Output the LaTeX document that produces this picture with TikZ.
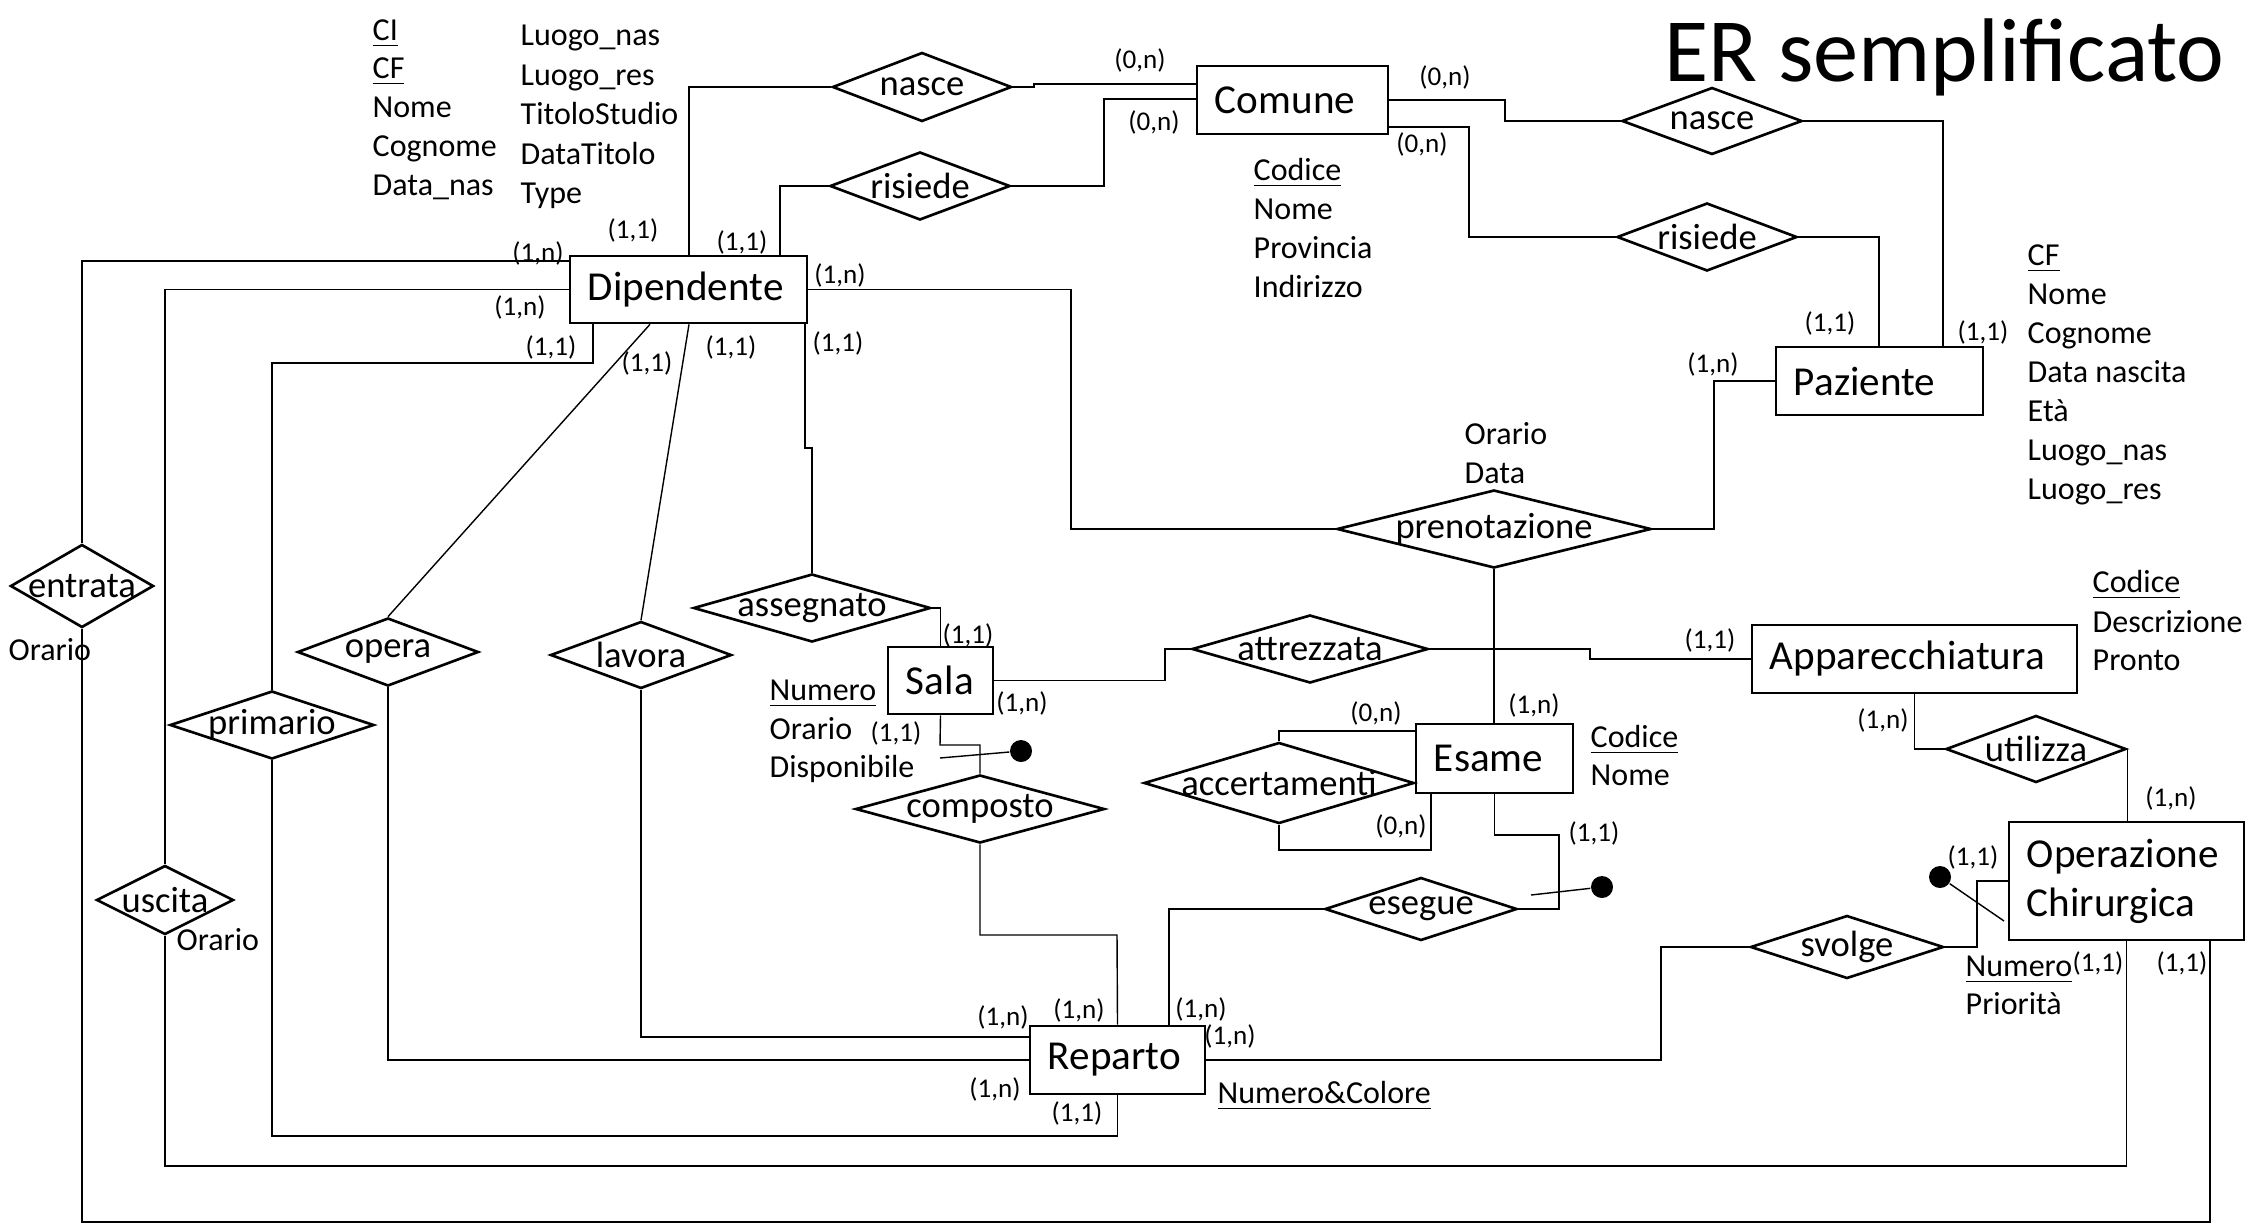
\documentclass[tikz,border=0pt]{standalone}
\usepackage{fontspec}
\setmainfont{Carlito}
\usetikzlibrary{shapes.geometric}
\hyphenpenalty=10000

\newcommand{\entfont}{\fontsize{11.7}{14}\selectfont}
\newcommand{\relfont}{\fontsize{10.4}{12}\selectfont}
\newcommand{\attrfont}{\fontsize{9.1}{11}\selectfont}
\newcommand{\cardfont}{\fontsize{7.7}{9}\selectfont}
\newcommand{\titlefont}{\fontsize{25.7}{30}\selectfont}

\begin{document}
\begin{tikzpicture}[x=0.01cm, y=-0.01cm,
		ent/.style={draw, line width=0.75pt, inner xsep=0.18cm, inner ysep=0pt, align=left, font=\entfont},
		rel/.style={diamond, draw, line width=0.75pt, inner sep=0pt, label={[font=\relfont, inner sep=0pt]center:#1}},
		attr/.style={anchor=west, inner sep=0pt, font=\attrfont, text height=5.9pt, text depth=0pt},
		card/.style={inner sep=0pt, font=\cardfont, text height=5pt, text depth=0pt},
		link/.style={line width=0.4pt},
		iddot/.style={circle, fill, inner sep=0pt, minimum size=0.22cm}]
	% 画布 (固定版面大小)
	\fill[white] (0,0) rectangle (2246,1224);
	\useasboundingbox (0,0) rectangle (2246,1224);
	
	% 标题
	\node[anchor=west, inner sep=0pt, font=\titlefont, text height=16.6pt, text depth=0pt] (title) at (1664,52) {ER semplificato};
	
	% 实体
	\node[ent, text width=2.01cm, minimum height=0.67cm] (Dip) at (688.5,289.5) {Dipendente};
	\node[ent, text width=1.55cm, minimum height=0.68cm] (Comune) at (1292.5,100) {Comune};
	\node[ent, text width=1.71cm, minimum height=0.68cm] (Paz) at (1879.5,381) {Paziente};
	\node[ent, text width=0.69cm, minimum height=0.67cm] (Sala) at (940.5,680.5) {Sala};
	\node[ent, text width=2.89cm, minimum height=0.68cm] (Appar) at (1914.5,659) {Apparecchiatura};
	\node[ent, text width=1.21cm, minimum height=0.69cm] (Esame) at (1494.5,758.5) {Esame};
	\node[ent, text width=1.99cm, minimum height=1.18cm] (Oper) at (2126.5,881) {Operazione\\Chirurgica};
	\node[ent, text width=1.39cm, minimum height=0.68cm] (Reparto) at (1117.5,1060) {Reparto};
	
	% 联系 (菱形)
	\node[rel=nasce, minimum width=1.79cm, minimum height=0.69cm] (nasceD) at (922,87) {};
	\node[rel=risiede, minimum width=1.80cm, minimum height=0.68cm] (risiedeD) at (920,186) {};
	\node[rel=nasce, minimum width=1.80cm, minimum height=0.67cm] (nasceP) at (1712,121) {};
	\node[rel=risiede, minimum width=1.80cm, minimum height=0.68cm] (risiedeP) at (1707,237) {};
	\node[rel=prenotazione, minimum width=3.14cm, minimum height=0.78cm] (pren) at (1494,529) {};
	\node[rel=entrata, minimum width=1.43cm, minimum height=0.83cm] (entrata) at (82,586) {};
	\node[rel=uscita, minimum width=1.37cm, minimum height=0.69cm] (uscita) at (165,900) {};
	\node[rel=primario, minimum width=2.04cm, minimum height=0.68cm] (primario) at (272,725) {};
	\node[rel=opera, minimum width=1.81cm, minimum height=0.68cm] (opera) at (388,652) {};
	\node[rel=lavora, minimum width=1.81cm, minimum height=0.67cm] (lavora) at (641,655) {};
	\node[rel=assegnato, minimum width=2.37cm, minimum height=0.68cm] (assegnato) at (812,608) {};
	\node[rel=composto, minimum width=2.49cm, minimum height=0.68cm] (composto) at (980,809) {};
	\node[rel=attrezzata, minimum width=2.36cm, minimum height=0.68cm] (attrezzata) at (1310,649) {};
	\node[rel=accertamenti, minimum width=2.70cm, minimum height=0.81cm] (accert) at (1279,783) {};
	\node[rel=esegue, minimum width=1.92cm, minimum height=0.63cm] (esegue) at (1421,909) {};
	\node[rel=utilizza, minimum width=1.80cm, minimum height=0.67cm] (utilizza) at (2036,749) {};
	\node[rel=svolge, minimum width=1.93cm, minimum height=0.63cm] (svolge) at (1847,947) {};
	
	% 属性
	\node[attr] (dCI) at (372,30) {\underline{CI}};
	\node[attr] (dCF) at (372,68) {\underline{CF}};
	\foreach \t [count=\i] in {Nome,Cognome,Data\_nas}
		\node[attr] (dA\i) at (372,68+39*\i) {\t};
	\foreach \t [count=\i] in {Luogo\_nas,Luogo\_res,TitoloStudio,DataTitolo,Type}
		\node[attr] (dB\i) at (520,-4+39.5*\i) {\t};
	\node[attr] (cCod) at (1253,170) {\underline{Codice}};
	\foreach \t [count=\i] in {Nome,Provincia,Indirizzo}
		\node[attr] (cA\i) at (1253,170+39*\i) {\t};
	\node[attr] (pCF) at (2027,255) {\underline{CF}};
	\foreach \t [count=\i] in {Nome,Cognome,Data nascita,Età,Luogo\_nas,Luogo\_res}
		\node[attr] (pA\i) at (2027,255+39.1*\i) {\t};
	\node[attr] (prOra) at (1464,434) {Orario};
	\node[attr] (prData) at (1464,473) {Data};
	\node[attr] (sNum) at (769,690) {\underline{Numero}};
	\node[attr] (sOra) at (769,729) {Orario};
	\node[attr] (sDisp) at (769,767) {Disponibile};
	\node[attr] (aCod) at (2092,582) {\underline{Codice}};
	\node[attr] (aDesc) at (2092,622) {Descrizione};
	\node[attr] (aPro) at (2092,660) {Pronto};
	\node[attr] (eCod) at (1590,737) {\underline{Codice}};
	\node[attr] (eNome) at (1590,775) {Nome};
	\node[attr] (oNum) at (1965,966) {\underline{Numero}};
	\node[attr] (oPri) at (1965,1004) {Priorità};
	\node[attr] (rNum) at (1217,1093) {\underline{Numero\&Colore}};
	\node[attr] (enOra) at (8,650) {Orario};
	\node[attr] (usOra) at (176,940) {Orario};
	
	% 标识符 (黑点)
	\node[iddot] (dotSala) at (1021,751) {};
	\coordinate (dotSalaEnd) at (940,758);
	\node[iddot] (dotEsame) at (1602,887) {};
	\coordinate (dotEsameEnd) at (1531,895);
	\node[iddot] (dotOper) at (1940,877) {};
	\coordinate (dotOperEnd) at (2004,921);
	\draw[link] (dotSalaEnd) -- (dotSala);
	\draw[link] (dotEsameEnd) -- (dotEsame);
	\draw[link] (dotOperEnd) -- (dotOper);
	
	% 连线: Dipendente / Paziente -- Comune
	\draw[link] (689,0 |- Dip.north) |- (nasceD.west);
	\draw[link] (nasceD.east) -- (1034,87) -- (1034,84) -- (Comune.west |- 0,84);
	\draw[link] (780,0 |- Dip.north) |- (risiedeD.west);
	\draw[link] (risiedeD.east) -| (1104,99) -- (Comune.west |- 0,99);
	\draw[link] (Comune.east |- 0,100) -| (1505,121) -- (nasceP.west);
	\draw[link] (nasceP.east) -| (1943,0 |- Paz.north);
	\draw[link] (Comune.east |- 0,127) -| (1469,237) -- (risiedeP.west);
	\draw[link] (risiedeP.east) -| (1879,0 |- Paz.north);
	
	% prenotazione
	\draw[link] (Dip.east) -| (1071,529) -- (pren.west);
	\draw[link] (pren.east) -| (1714,381) -- (Paz.west);
	\draw[link] (pren.south) -- (pren.south |- Esame.north);
	
	% entrata / uscita
	\draw[link] (Dip.west |- 0,261) -| (entrata.north);
	\draw[link] (entrata.south) -- (82,1222) -| (2210,0 |- Oper.south);
	\draw[link] (Dip.west) -| (uscita.north);
	\draw[link] (uscita.south) -- (165,1166) -| (Oper.south);
	
	% primario, opera, lavora
	\draw[link] (593,0 |- Dip.south) |- (272,363) -- (primario.north);
	\draw[link] (primario.south) -- (272,1136) -| (Reparto.south);
	\draw[link] (650,0 |- Dip.south) -- (opera.north);
	\draw[link] (opera.south) |- (Reparto.west);
	\draw[link] (689,0 |- Dip.south) -- (lavora.north);
	\draw[link] (lavora.south) |- (Reparto.west |- 0,1037);
	
	% assegnato, composto, attrezzata
	\draw[link] (805,0 |- Dip.south) -- (805,448) -- (812,448) -- (assegnato.north);
	\draw[link] (assegnato.east) -| (Sala.north);
	\draw[link] (Sala.south) -- (940,745) -| (composto.north);
	\draw[link] (composto.south) |- (1117,935) -- (Reparto.north);
	\draw[link] (Sala.east) -| (1165,649) -- (attrezzata.west);
	\draw[link] (attrezzata.east) -| (1590,659) -- (Appar.west);
	
	% utilizza, accertamenti, esegue, svolge
	\draw[link] (Appar.south) |- (utilizza.west);
	\draw[link] (utilizza.east) -- (utilizza.east |- Oper.north);
	\draw[link] (accert.north) |- (Esame.west |- 0,731);
	\draw[link] (accert.south) |- (1431,850) -- (1431,0 |- Esame.south);
	\draw[link] (Esame.south) -- (1494.5,835) -| (1559,909) -- (esegue.east);
	\draw[link] (esegue.west) -| (1169,0 |- Reparto.north);
	\draw[link] (Reparto.east) -| (1661,947) -- (svolge.west);
	\draw[link] (svolge.east) -| (1977,881) -- (Oper.west);
	
	% 基数
	\foreach \x/\y [count=\i] in {1140/60,1154/122,1445/77,1422/144,1376/713,1401/826}
		\node[card] (czn\i) at (\x,\y) {(0,n)};
	\foreach \x/\y [count=\i] in {633/230,742/242,551/347,647/363,731/347,838/343,1830/323,1983/332,
		968/635,896/733,1710/640,1594/833,1973/857,2098/963,2182/963,1077/1113}
		\node[card] (coo\i) at (\x,\y) {(1,1)};
	\foreach \x/\y [count=\i] in {538/253,520/307,840/275,1713/364,1022/703,1534/705,1883/720,
		2171/798,1003/1017,1079/1010,1201/1009,1230/1036,995/1089}
		\node[card] (con\i) at (\x,\y) {(1,n)};
\end{tikzpicture}
\end{document}
